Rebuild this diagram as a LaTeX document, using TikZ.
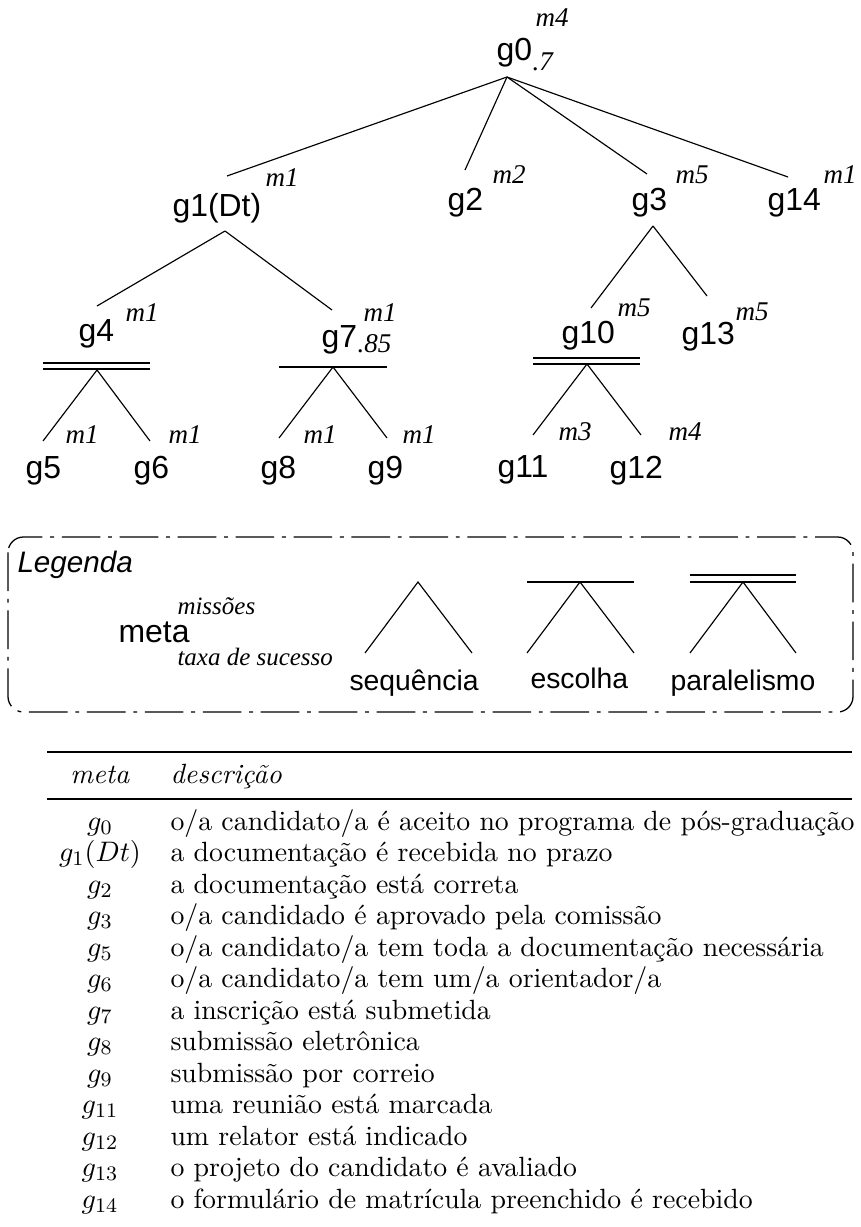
\documentclass[tikz,border=0pt]{standalone}
\usepackage{fontspec}
\newfontfamily\lsans{Liberation Sans}
\newfontfamily\lserif{Liberation Serif}
\begin{document}
\begin{tikzpicture}[x=0.3883pt,y=-0.3883pt,
  goal/.style={font=\lsans\fontsize{12.4}{14}\selectfont,anchor=base west,inner sep=0pt},
  mis/.style={font=\lserif\itshape\fontsize{10.5}{12}\selectfont,anchor=base west,inner sep=0pt},
  lgsans/.style={font=\lsans\fontsize{11}{13}\selectfont,anchor=base west,inner sep=0pt},
  lgserif/.style={font=\lserif\itshape\fontsize{9.7}{12}\selectfont,anchor=base west,inner sep=0pt},
  link/.style={line width=0.45pt},
  bar/.style={line width=0.5pt},
  tlab/.style={font=\fontsize{10.8}{12}\selectfont,anchor=base,inner sep=0pt},
  tdesc/.style={font=\fontsize{10.8}{12}\selectfont,anchor=base west,inner sep=0pt},
  legendbox/.style={line width=0.5pt,rounded corners=6pt,
    dash pattern=on 15pt off 3pt on 1.5pt off 3pt}]
\useasboundingbox (0,0) rectangle (861,1227);

% ---------- goal tree ----------
\node[goal] (g0) at (496,61) {g0};
\node[mis] (g0m) at (535,27) {m4};
\node[mis] (g0r) at (532,71) {.7};
\coordinate (g0b) at (507,77);

\node[goal] (g1) at (172,216) {g1(Dt)};
\node[mis] (g1m) at (265,186) {m1};
\coordinate (g1t) at (227,176);
\coordinate (g1b) at (225,231);

\node[goal] (g2) at (447,211) {g2};
\node[mis] (g2m) at (492,184) {m2};
\coordinate (g2t) at (465,170);

\node[goal] (g3) at (631,210) {g3};
\node[mis] (g3m) at (675,184) {m5};
\coordinate (g3t) at (647,174);
\coordinate (g3b) at (653,226);

\node[goal] (g14) at (767,211) {g14};
\node[mis] (g14m) at (823,184) {m1};
\coordinate (g14t) at (788,177);

\node[goal] (g4) at (78,341) {g4};
\node[mis] (g4m) at (125,321) {m1};
\coordinate (g4t) at (97,306);
\coordinate (g4b) at (97,370);

\node[goal] (g7) at (321,347) {g7};
\node[mis] (g7m) at (363,321) {m1};
\node[mis] (g7r) at (357,352) {.85};
\coordinate (g7t) at (332,310);
\coordinate (g7b) at (333,367);

\node[goal] (g10) at (561,343) {g10};
\node[mis] (g10m) at (617,316) {m5};
\coordinate (g10t) at (591,308);
\coordinate (g10b) at (587,364);

\node[goal] (g13) at (681,344) {g13};
\node[mis] (g13m) at (735,320) {m5};
\coordinate (g13t) at (707,296);

\node[goal] (g5) at (25,478) {g5};
\node[mis] (g5m) at (65,443) {m1};
\coordinate (g5t) at (43,441);
\node[goal] (g6) at (133,478) {g6};
\node[mis] (g6m) at (168,443) {m1};
\coordinate (g6t) at (150,441);

\node[goal] (g8) at (260,478) {g8};
\node[mis] (g8m) at (303,443) {m1};
\coordinate (g8t) at (279,438);
\node[goal] (g9) at (367,478) {g9};
\node[mis] (g9m) at (402,443) {m1};
\coordinate (g9t) at (387,438);

\node[goal] (g11) at (497,477) {g11};
\node[mis] (g11m) at (558,440) {m3};
\coordinate (g11t) at (533,435);
\node[goal] (g12) at (609,478) {g12};
\node[mis] (g12m) at (668,440) {m4};
\coordinate (g12t) at (641,435);

% decomposition links
\draw[link] (g0b) -- (g1t);
\draw[link] (g0b) -- (g2t);
\draw[link] (g0b) -- (g3t);
\draw[link] (g0b) -- (g14t);
\draw[link] (g1b) -- (g4t);
\draw[link] (g1b) -- (g7t);
\draw[link] (g3b) -- (g10t);
\draw[link] (g3b) -- (g13t);
\draw[link] (g4b) -- (g5t);
\draw[link] (g4b) -- (g6t);
\draw[link] (g7b) -- (g8t);
\draw[link] (g7b) -- (g9t);
\draw[link] (g10b) -- (g11t);
\draw[link] (g10b) -- (g12t);

% parallel (double) and choice (single) bars
\draw[bar] (43,363) -- (150,363);
\draw[bar] (43,369) -- (150,369);
\draw[bar] (279,367) -- (387,367);
\draw[bar] (533,358) -- (640,358);
\draw[bar] (533,364) -- (640,364);

% ---------- legend ----------
\draw[legendbox] (8,537) rectangle (853,712);
\node[lgsans,font=\lsans\itshape\fontsize{11.5}{13}\selectfont] (leg) at (17,572) {Legenda};
\node[lgserif] (lmis) at (177,614) {missões};
\node[goal] (lmeta) at (118,642) {meta};
\node[lgserif] (ltaxa) at (177,665) {taxa de sucesso};

\coordinate (sa) at (418,582);
\coordinate (sl) at (365,653);
\coordinate (sr) at (472,653);
\draw[link] (sl) -- (sa) -- (sr);
\node[lgsans] (lseq) at (349,690) {sequência};

\coordinate (ea) at (580,582);
\coordinate (el) at (527,653);
\coordinate (er) at (634,653);
\draw[link] (el) -- (ea) -- (er);
\draw[bar] (527,582) -- (634,582);
\node[lgsans] (lesc) at (530,688) {escolha};

\coordinate (pa) at (743,582);
\coordinate (pl) at (690,653);
\coordinate (pr) at (796,653);
\draw[link] (pl) -- (pa) -- (pr);
\draw[bar] (690,575) -- (796,575);
\draw[bar] (690,582) -- (796,582);
\node[lgsans] (lpar) at (670,690) {paralelismo};

% ---------- table of goals ----------
\draw[line width=0.8pt] (47,752) -- (852,752);
\node[tlab] (hmeta) at (100,783) {\textit{meta}};
\node[tdesc] (hdesc) at (170,783) {\textit{descrição}};
\draw[line width=0.5pt] (47,799) -- (852,799);

\node[tlab] (t0) at (100,830) {$g_0$};
\node[tdesc] (d0) at (170,830) {o/a candidato/a é aceito no programa de pós-graduação};
\node[tlab] (t1) at (100,861.5) {$g_1(Dt)$};
\node[tdesc] (d1) at (170,861.5) {a documentação é recebida no prazo};
\node[tlab] (t2) at (100,893) {$g_2$};
\node[tdesc] (d2) at (170,893) {a documentação está correta};
\node[tlab] (t3) at (100,924.5) {$g_3$};
\node[tdesc] (d3) at (170,924.5) {o/a candidado é aprovado pela comissão};
\node[tlab] (t5) at (100,956) {$g_5$};
\node[tdesc] (d5) at (170,956) {o/a candidato/a tem toda a documentação necessária};
\node[tlab] (t6) at (100,987.5) {$g_6$};
\node[tdesc] (d6) at (170,987.5) {o/a candidato/a tem um/a orientador/a};
\node[tlab] (t7) at (100,1019) {$g_7$};
\node[tdesc] (d7) at (170,1019) {a inscrição está submetida};
\node[tlab] (t8) at (100,1050.5) {$g_8$};
\node[tdesc] (d8) at (170,1050.5) {submissão eletrônica};
\node[tlab] (t9) at (100,1082) {$g_9$};
\node[tdesc] (d9) at (170,1082) {submissão por correio};
\node[tlab] (t11) at (100,1113.5) {$g_{11}$};
\node[tdesc] (d11) at (170,1113.5) {uma reunião está marcada};
\node[tlab] (t12) at (100,1145) {$g_{12}$};
\node[tdesc] (d12) at (170,1145) {um relator está indicado};
\node[tlab] (t13) at (100,1176.5) {$g_{13}$};
\node[tdesc] (d13) at (170,1176.5) {o projeto do candidato é avaliado};
\node[tlab] (t14) at (100,1208) {$g_{14}$};
\node[tdesc] (d14) at (170,1208) {o formulário de matrícula preenchido é recebido};
\end{tikzpicture}
\end{document}
